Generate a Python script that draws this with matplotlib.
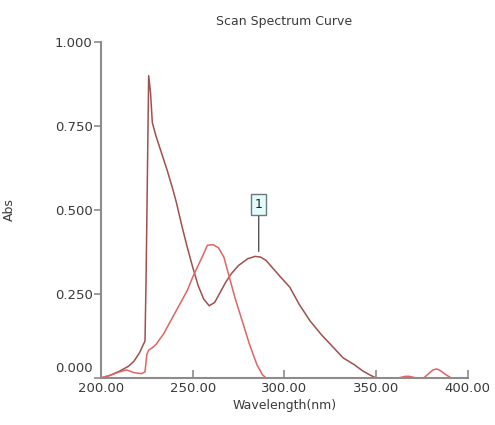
import matplotlib
matplotlib.use("Agg")
import matplotlib.pyplot as plt
import matplotlib.transforms as mtransforms

# Spectrum 1 (brown)
wl_1 = [200, 205, 210, 215, 218, 221, 224, 224.6, 226, 227, 228, 230, 233, 236,
        239, 241, 244, 247, 250, 253, 256, 259, 262, 265, 268, 271, 275, 280,
        284, 287, 290, 294, 298, 303, 308, 314, 320, 326, 332, 338, 343, 347, 350]
abs_1 = [0.0, 0.008, 0.02, 0.035, 0.05, 0.075, 0.11, 0.3, 0.9, 0.85, 0.76, 0.72,
         0.67, 0.62, 0.565, 0.525, 0.455, 0.39, 0.33, 0.275, 0.235, 0.215, 0.225,
         0.255, 0.285, 0.31, 0.335, 0.355, 0.362, 0.36, 0.35, 0.325, 0.3, 0.27,
         0.22, 0.17, 0.13, 0.095, 0.06, 0.04, 0.02, 0.008, 0.0]

# Spectrum 2 (red)
wl_2 = [200, 205, 210, 214, 218, 222, 224, 225, 226, 228, 230, 234, 239, 243,
        247, 250, 253, 256, 258, 261, 264, 267, 270, 273, 277, 281, 285, 288,
        290, 300, 362, 366, 368, 372, 376, 378, 381, 383, 385, 388, 391, 400]
abs_2 = [0.0, 0.008, 0.018, 0.024, 0.016, 0.013, 0.018, 0.07, 0.083, 0.09, 0.1,
         0.13, 0.18, 0.22, 0.26, 0.3, 0.335, 0.37, 0.395, 0.397, 0.388, 0.36,
         0.3, 0.24, 0.17, 0.1, 0.04, 0.01, 0.0, 0.0, 0.0, 0.005, 0.005, 0.0, 0.0,
         0.01, 0.024, 0.027, 0.022, 0.01, 0.0, 0.0]

peak_label = "1"
peak_wl = 286
peak_abs = 0.362

x_ticks = [200, 250, 300, 350, 400]
y_ticks = [0.0, 0.25, 0.5, 0.75, 1.0]

plt.rcParams["font.family"] = ["DejaVu Sans"]
text_col = "#3a3a3a"

fig = plt.figure(figsize=(4.95, 4.25), dpi=100)
ax = fig.add_axes([0.204, 0.1106, 0.741, 0.7904])

ax.plot(wl_1, abs_1, color="#a0504c", lw=1.1)
ax.plot(wl_2, abs_2, color="#e06464", lw=1.1)

ax.set_xlim(200, 400)
ax.set_ylim(0, 1.0)
ax.set_xticks(x_ticks)
ax.set_yticks(y_ticks)
ax.set_xticklabels([f"{v:.2f}" for v in x_ticks])
ax.set_yticklabels([f"{v:.3f}" for v in y_ticks])

for side in ["top", "right"]:
    ax.spines[side].set_visible(False)
for side in ["left", "bottom"]:
    ax.spines[side].set_color("#8c8c8c")
    ax.spines[side].set_linewidth(1.5)

ax.tick_params(axis="x", direction="in", length=6, color="#8c8c8c", width=1.2,
               labelsize=9.5, labelcolor=text_col, pad=3)
ax.tick_params(axis="y", direction="out", length=5, color="#8c8c8c", width=1.2,
               labelsize=9.5, labelcolor=text_col, pad=1)

# lift the 0.000 label a bit so it clears the x labels (as in the original)
lift = mtransforms.ScaledTranslation(0, 8 / 72, fig.dpi_scale_trans)
lbl0 = ax.get_yticklabels()[0]
lbl0.set_transform(lbl0.get_transform() + lift)

ax.set_title("Scan Spectrum Curve", fontsize=9, color=text_col, pad=12)
ax.set_xlabel("Wavelength(nm)", fontsize=9, color=text_col, labelpad=3)
ax.set_ylabel("Abs", fontsize=9, color=text_col, labelpad=28)

# peak marker
ax.annotate(peak_label, xy=(peak_wl, peak_abs + 0.015), xytext=(peak_wl, peak_abs + 0.155),
            ha="center", va="center", fontsize=9, color="#222222",
            bbox=dict(boxstyle="square,pad=0.3", fc="#e4fbfb", ec="#6a7a7a", lw=1),
            arrowprops=dict(arrowstyle="-", color="#555555", lw=1, shrinkA=0, shrinkB=0))

fig.savefig("out.png", dpi=100)
